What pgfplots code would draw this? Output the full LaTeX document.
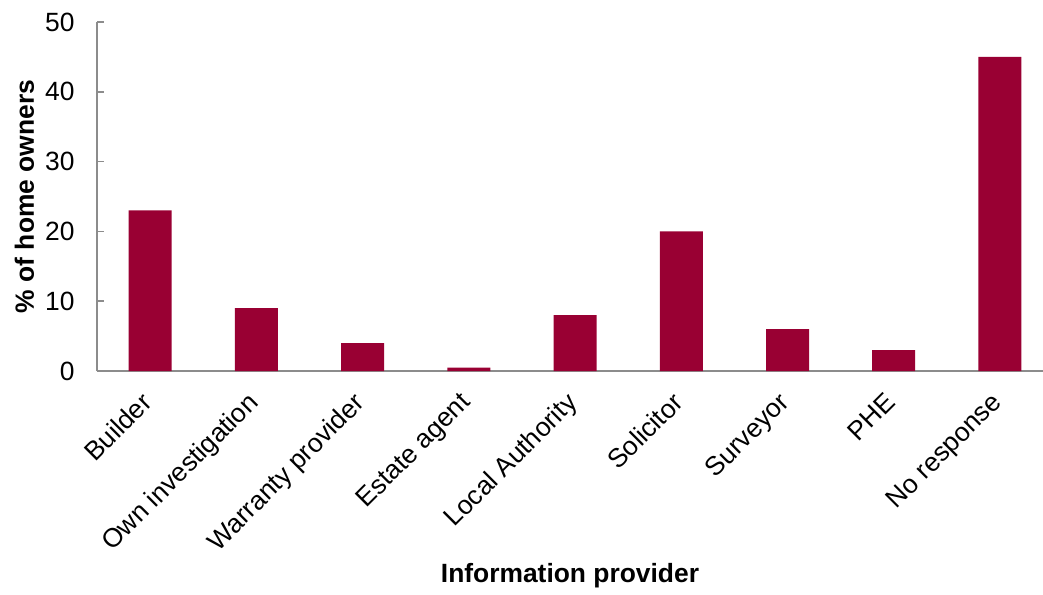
\documentclass[border=0pt]{standalone}
\usepackage{fontspec}
\setmainfont{Liberation Sans}
\usepackage{pgfplots}
\pgfplotsset{compat=1.18}
\definecolor{barred}{HTML}{990033}
\definecolor{axgray}{HTML}{8C8C8C}
\begin{document}
\begin{tikzpicture}
\path[use as bounding box] (0,0) rectangle (1043bp,595bp);
\begin{axis}[
  at={(97bp,224bp)}, anchor=south west,
  scale only axis,
  width=946bp, height=349bp,
  xmin=-0.5, xmax=8.405,
  ymin=0, ymax=50,
  ytick={0,10,20,30,40,50},
  xtick={0,...,8},
  xticklabels={Builder,Own investigation,Warranty provider,Estate agent,Local Authority,Solicitor,Surveyor,PHE,No response},
  axis x line*=bottom,
  axis y line*=left,
  axis line style={axgray, line width=1.6bp, -},
  major tick length=7bp,
  ytick style={axgray, line width=1.6bp},
  tick align=inside,
  x tick style={draw=none},
  tick label style={font=\fontsize{26.5}{30}\selectfont},
  /pgf/number format/assume math mode=true,
  yticklabel style={xshift=-19bp},
  xticklabel style={rotate=45, anchor=north east, xshift=-17.7bp, yshift=-3.4bp},
  ylabel={\textbf{\% of home owners}},
  xlabel={\textbf{Information provider}},
  label style={font=\fontsize{26.5}{30}\selectfont},
  ylabel style={at={(axis description cs:0,0.5)}, anchor=base, yshift=63bp},
  xlabel style={at={(axis description cs:0.5,0)}, anchor=base, yshift=-211bp},
  clip=false,
]
\addplot[ybar, bar width=43bp, fill=barred, draw=none] coordinates {
  (0,23) (1,9) (2,4) (3,0.5) (4,8) (5,20) (6,6) (7,3) (8,45)
};
\end{axis}
\end{tikzpicture}
\end{document}
